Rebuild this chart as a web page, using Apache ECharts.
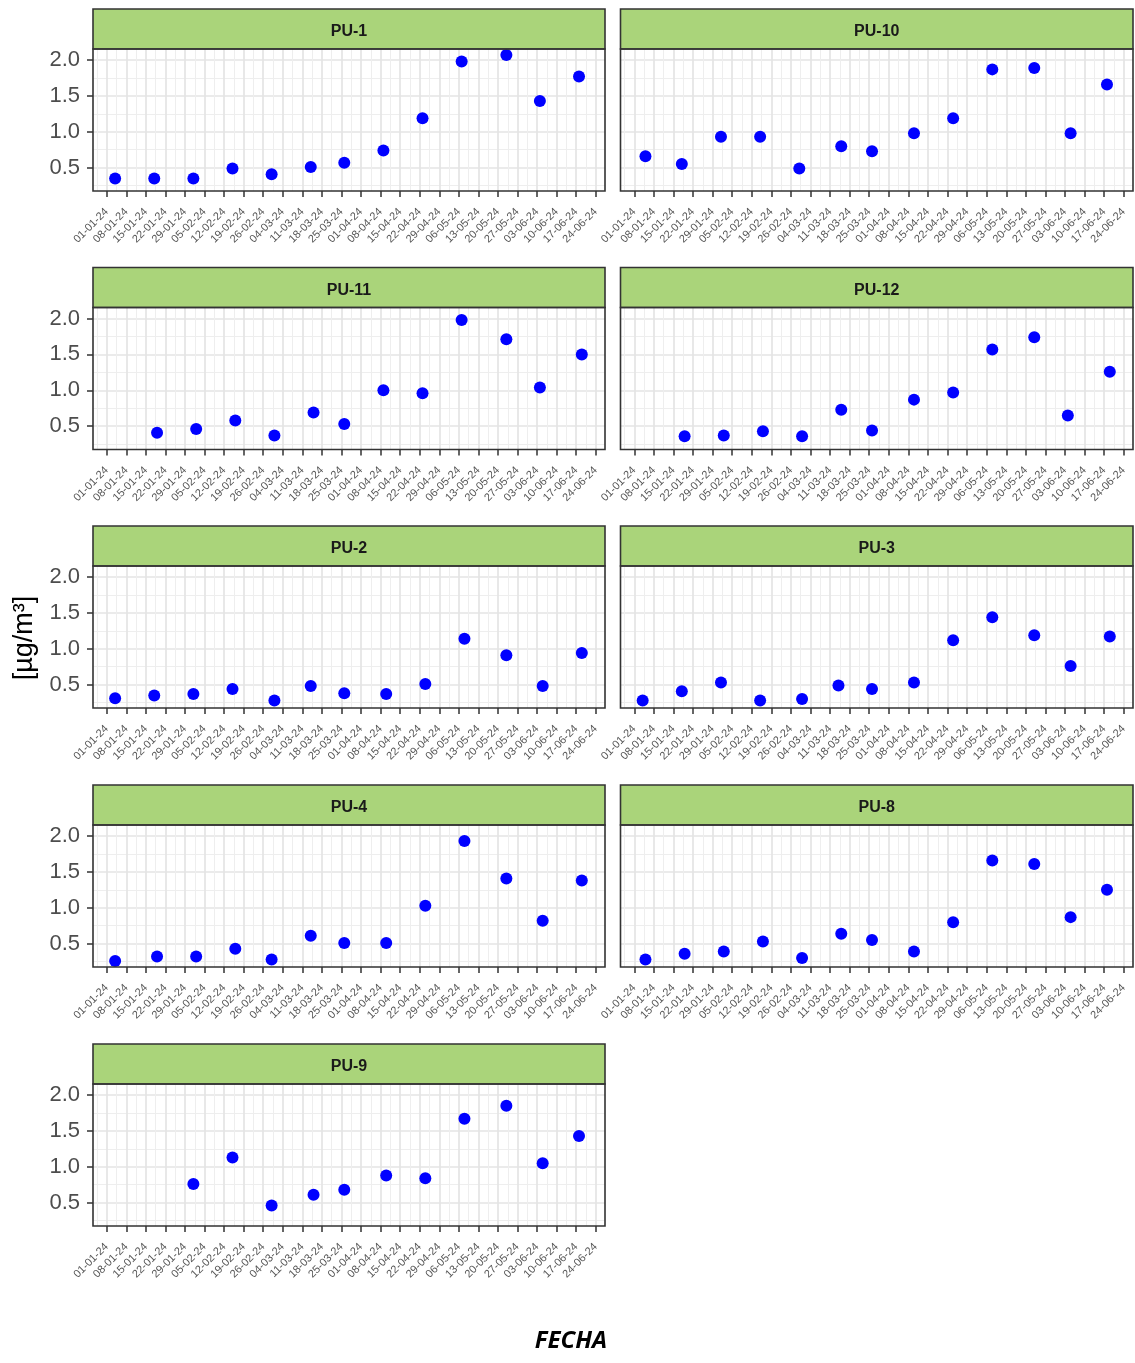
<!DOCTYPE html>
<html><head><meta charset="utf-8">
<script src="https://cdn.jsdelivr.net/npm/echarts@6/dist/echarts.min.js"></script>
<style>html,body{margin:0;padding:0;background:#fff}#c{width:1135px;height:1363px}</style>
</head><body><div id="c"></div>
<script>
// ---------- DATA ----------
const panelNames = ['PU-1','PU-10','PU-11','PU-12','PU-2','PU-3','PU-4','PU-8','PU-9'];

const xTickLabels = ['01-01-24','08-01-24','15-01-24','22-01-24','29-01-24','05-02-24','12-02-24','19-02-24','26-02-24',
  '04-03-24','11-03-24','18-03-24','25-03-24','01-04-24','08-04-24','15-04-24','22-04-24','29-04-24',
  '06-05-24','13-05-24','20-05-24','27-05-24','03-06-24','10-06-24','17-06-24','24-06-24'];
const yTickValues = [0.5, 1.0, 1.5, 2.0];
const yMinorValues = [0.25, 0.75, 1.25, 1.75];

const datesPU1  = ['2024-01-04','2024-01-18','2024-02-01','2024-02-15','2024-02-29','2024-03-14','2024-03-26','2024-04-09','2024-04-23','2024-05-07','2024-05-23','2024-06-04','2024-06-18'];
const valuesPU1 = [0.35,0.35,0.35,0.49,0.41,0.51,0.57,0.74,1.19,1.98,2.07,1.43,1.77];

const datesPU10  = ['2024-01-05','2024-01-18','2024-02-01','2024-02-15','2024-02-29','2024-03-15','2024-03-26','2024-04-10','2024-04-24','2024-05-08','2024-05-23','2024-06-05','2024-06-18'];
const valuesPU10 = [0.66,0.55,0.93,0.93,0.49,0.80,0.73,0.98,1.19,1.87,1.89,0.98,1.66];

const datesPU11  = ['2024-01-19','2024-02-02','2024-02-16','2024-03-01','2024-03-15','2024-03-26','2024-04-09','2024-04-23','2024-05-07','2024-05-23','2024-06-04','2024-06-19'];
const valuesPU11 = [0.41,0.46,0.58,0.37,0.69,0.53,1.00,0.96,1.98,1.71,1.04,1.50];

const datesPU12  = ['2024-01-19','2024-02-02','2024-02-16','2024-03-01','2024-03-15','2024-03-26','2024-04-10','2024-04-24','2024-05-08','2024-05-23','2024-06-04','2024-06-19'];
const valuesPU12 = [0.36,0.37,0.43,0.36,0.73,0.44,0.87,0.97,1.57,1.74,0.65,1.26];

const datesPU2  = ['2024-01-04','2024-01-18','2024-02-01','2024-02-15','2024-03-01','2024-03-14','2024-03-26','2024-04-10','2024-04-24','2024-05-08','2024-05-23','2024-06-05','2024-06-19'];
const valuesPU2 = [0.31,0.35,0.37,0.44,0.28,0.48,0.38,0.37,0.51,1.14,0.91,0.48,0.94];

const datesPU3  = ['2024-01-04','2024-01-18','2024-02-01','2024-02-15','2024-03-01','2024-03-14','2024-03-26','2024-04-10','2024-04-24','2024-05-08','2024-05-23','2024-06-05','2024-06-19'];
const valuesPU3 = [0.28,0.41,0.53,0.28,0.30,0.49,0.44,0.53,1.12,1.44,1.19,0.76,1.17];

const datesPU4  = ['2024-01-04','2024-01-19','2024-02-02','2024-02-16','2024-02-29','2024-03-14','2024-03-26','2024-04-10','2024-04-24','2024-05-08','2024-05-23','2024-06-05','2024-06-19'];
const valuesPU4 = [0.26,0.32,0.32,0.43,0.28,0.61,0.51,0.51,1.03,1.93,1.41,0.82,1.38];

const datesPU8  = ['2024-01-05','2024-01-19','2024-02-02','2024-02-16','2024-03-01','2024-03-15','2024-03-26','2024-04-10','2024-04-24','2024-05-08','2024-05-23','2024-06-05','2024-06-18'];
const valuesPU8 = [0.28,0.36,0.39,0.53,0.30,0.64,0.55,0.39,0.80,1.66,1.61,0.87,1.25];

const datesPU9  = ['2024-02-01','2024-02-15','2024-02-29','2024-03-15','2024-03-26','2024-04-10','2024-04-24','2024-05-08','2024-05-23','2024-06-05','2024-06-18'];
const valuesPU9 = [0.76,1.13,0.46,0.61,0.68,0.88,0.84,1.67,1.85,1.05,1.43];

const panelDates  = [datesPU1, datesPU10, datesPU11, datesPU12, datesPU2, datesPU3, datesPU4, datesPU8, datesPU9];
const panelValues = [valuesPU1, valuesPU10, valuesPU11, valuesPU12, valuesPU2, valuesPU3, valuesPU4, valuesPU8, valuesPU9];

// ---------- LAYOUT ----------
const DAY = 86400000;
function parseTick(s) { const p = s.split('-'); return Date.UTC(2000 + +p[2], +p[1] - 1, +p[0]); }
function parseDate(s) { const p = s.split('-'); return Date.UTC(+p[0], +p[1] - 1, +p[2]); }
const tickTimes = xTickLabels.map(parseTick);
const minorTimes = [tickTimes[0] - 3.5 * DAY].concat(tickTimes.map(t => t + 3.5 * DAY));
const t0 = tickTimes[0];
const xMin = t0 - 4.92 * DAY, xMax = t0 + 178.3 * DAY;
const yMin = 0.175, yMax = 2.154;

const colLeft = [93, 620.5], colWidth = [512, 512.5];
const rowTop = [9, 267.5, 526, 785, 1044];
const stripH = 40, plotH = 142;

const grids = [], xAxes = [], yAxes = [], series = [], graphics = [];
panelNames.forEach((name, i) => {
  const col = i % 2, row = Math.floor(i / 2);
  const left = colLeft[col], width = colWidth[col];
  const top = rowTop[row] + stripH;
  grids.push({ left: left, top: top, width: width, height: plotH, show: false, containLabel: false });
  xAxes.push({
    type: 'value', gridIndex: i, min: xMin, max: xMax, position: 'bottom', scale: true,
    axisLine: { show: false },
    axisTick: { show: true, customValues: tickTimes, length: 6, lineStyle: { color: '#333', width: 1.5 } },
    axisLabel: { customValues: tickTimes, rotate: 45, fontSize: 11, color: '#555', margin: 19,
      fontFamily: 'Liberation Sans',
      formatter: v => { const k = tickTimes.indexOf(v); return k >= 0 ? xTickLabels[k] : ''; } },
    splitLine: { show: true, lineStyle: { color: '#e4e4e4', width: 1.7 } }
  });
  yAxes.push({
    type: 'value', gridIndex: i, min: yMin, max: yMax,
    axisLine: { show: false },
    axisTick: { show: col === 0, customValues: yTickValues, length: 6, lineStyle: { color: '#333', width: 1.5 } },
    axisLabel: { show: col === 0, customValues: yTickValues, fontSize: 22, color: '#4d4d4d', margin: 13,
      padding: [5, 0, 0, 0],
      fontFamily: 'Liberation Sans', formatter: v => v.toFixed(1) },
    splitLine: { show: true, lineStyle: { color: '#e4e4e4', width: 1.7 } }
  });
  series.push({
    type: 'scatter', name: name, xAxisIndex: i, yAxisIndex: i, z: 5,
    symbol: 'circle', symbolSize: 12, itemStyle: { color: '#0000ff', opacity: 1 },
    data: panelDates[i].map((d, k) => [parseDate(d), panelValues[i][k]])
  });
  graphics.push({ type: 'rect', z: 50, shape: { x: left, y: rowTop[row], width: width, height: stripH },
    style: { fill: '#aad47a', stroke: '#333', lineWidth: 1.6 } });
  graphics.push({ type: 'text', z: 51, x: left + width / 2, y: rowTop[row] + stripH / 2 + 3,
    style: { text: name, font: 'bold 16px "Liberation Sans"', fill: '#1a1a1a', align: 'center', verticalAlign: 'middle' } });
  graphics.push({ type: 'rect', z: 50, shape: { x: left, y: top, width: width, height: plotH },
    style: { fill: 'none', stroke: '#333', lineWidth: 1.6 } });
});
panelNames.forEach((name, i) => {
  xAxes.push({ type: 'value', gridIndex: i, min: xMin, max: xMax, position: 'bottom', scale: true,
    axisLine: { show: false }, axisTick: { show: false, customValues: minorTimes },
    axisLabel: { show: false, customValues: minorTimes }, splitLine: { show: true, lineStyle: { color: '#eeeeee', width: 1 } } });
  yAxes.push({ type: 'value', gridIndex: i, min: yMin, max: yMax,
    axisLine: { show: false }, axisTick: { show: false, customValues: yMinorValues },
    axisLabel: { show: false, customValues: yMinorValues }, splitLine: { show: true, lineStyle: { color: '#eeeeee', width: 1 } } });
});
graphics.push({ type: 'text', z: 60, x: 25, y: 638, rotation: Math.PI / 2,
  style: { text: '[µg/m³]', font: '27px "Liberation Sans"', fill: '#000', align: 'center', verticalAlign: 'middle' } });
graphics.push({ type: 'text', z: 60, x: 571, y: 1341,
  style: { text: 'FECHA', font: 'italic bold 24px "Open Sans"', fill: '#000', align: 'center', verticalAlign: 'middle' } });

const chart = echarts.init(document.getElementById('c'), null, { renderer: 'canvas' });
chart.setOption({
  animation: false,
  backgroundColor: '#fff',
  grid: grids, xAxis: xAxes, yAxis: yAxes, series: series, graphic: graphics
});
</script></body></html>
